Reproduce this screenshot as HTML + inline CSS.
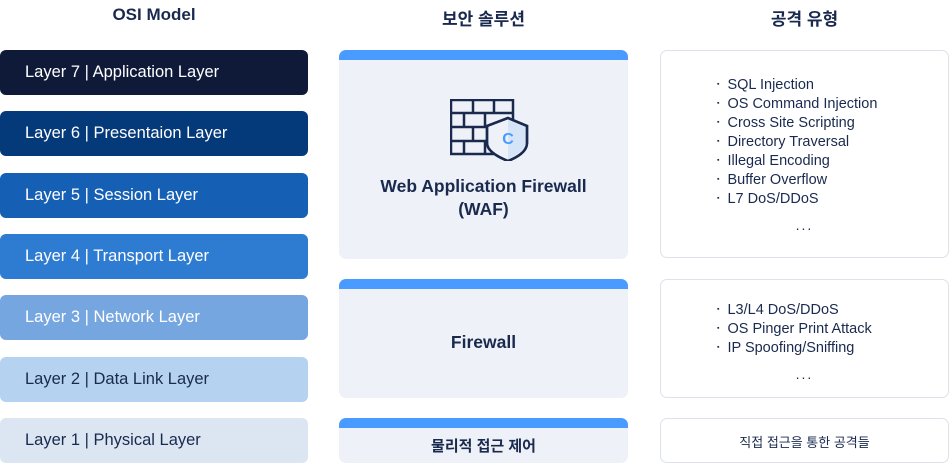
<!DOCTYPE html>
<html><head><meta charset="utf-8"><style>
*{margin:0;padding:0;box-sizing:border-box}
body{width:950px;height:463px;background:#fff;position:relative;font-family:"Liberation Sans","Noto Sans CJK KR",sans-serif;overflow:hidden;color:#1a2a4f}
.h{position:absolute;top:5px;font-size:17px;font-weight:bold;text-align:center;color:#1a2a4f}
.l{position:absolute;left:0;width:308px;height:45px;border-radius:6px;font-size:16.5px;line-height:45px;padding-left:25px;color:#fff}
.m{position:absolute;left:339px;width:289px;background:#eef1f7;border-radius:7px;overflow:hidden;text-align:center;font-weight:bold;font-size:17.5px;color:#1a2a4f}
.m:before{content:"";position:absolute;left:0;top:0;right:0;height:10px;background:#4a9bff}
.r{position:absolute;left:660px;width:289px;border:1px solid #dde2ea;border-radius:7px;background:#fff}
ul{list-style:none;position:absolute;left:56px;font-size:14.5px;line-height:19px}
ul li{height:19px}
ul li:before{content:"▪";font-size:7px;margin-right:8px;vertical-align:3px}
.d{position:absolute;left:0;right:0;text-align:center;font-size:14px;letter-spacing:2px}
</style></head><body>
<div class="h" style="left:0;width:308px">OSI Model</div>
<div class="h" style="left:339px;width:289px">보안 솔루션</div>
<div class="h" style="left:660px;width:289px">공격 유형</div>

<div class="l" style="top:50px;background:#0e1a38">Layer 7 | Application Layer</div>
<div class="l" style="top:111px;background:#053a7a">Layer 6 | Presentaion Layer</div>
<div class="l" style="top:173px;background:#1560b5">Layer 5 | Session Layer</div>
<div class="l" style="top:234px;background:#2e7bd2">Layer 4 | Transport Layer</div>
<div class="l" style="top:295px;background:#76a6e0">Layer 3 | Network Layer</div>
<div class="l" style="top:357px;background:#b5d3f0;color:#1a2a4f">Layer 2 | Data Link Layer</div>
<div class="l" style="top:418px;background:#dce6f2;color:#1a2a4f">Layer 1 | Physical Layer</div>

<div class="m" style="top:50px;height:209px">
<svg style="position:absolute;left:111px;top:49px" width="80" height="62" viewBox="0 0 80 62" fill="none" stroke="#1a2a4f" stroke-width="2.5">
<rect x="1" y="1" width="62" height="54"/>
<path d="M1 14H63M1 28H63M1 42H63M23 1V14M44 1V14M14 14V28M35 14V28M23 28V42M44 28V42M14 42V55M35 42V55"/>
<path d="M58 19L77 27V44C77 52 68 58 58 62C48 58 37 52 37 44V27Z" fill="#eef1f7"/>
<path d="M58 21L75 28V44C75 51 67 56 58 60Z" fill="#d6e4f7" stroke="none"/>
<path d="M58 19L77 27V44C77 52 68 58 58 62C48 58 37 52 37 44V27Z"/>
<text x="58" y="45" font-size="16" font-weight="bold" fill="#4a9bff" stroke="none" text-anchor="middle" font-family="Liberation Sans">C</text>
</svg>
<div style="position:absolute;top:125px;left:0;right:0;line-height:23px">Web Application Firewall<br>(WAF)</div>
</div>
<div class="m" style="top:279px;height:119px"><div style="position:absolute;top:53px;left:0;right:0">Firewall</div></div>
<div class="m" style="top:418px;height:45px;font-size:15px"><div style="position:absolute;top:17px;left:0;right:0">물리적 접근 제어</div></div>

<div class="r" style="top:50px;height:208px">
<ul style="top:24px"><li>SQL Injection</li><li>OS Command Injection</li><li>Cross Site Scripting</li><li>Directory Traversal</li><li>Illegal Encoding</li><li>Buffer Overflow</li><li>L7 DoS/DDoS</li></ul>
<div class="d" style="top:166px">...</div>
</div>
<div class="r" style="top:279px;height:119px">
<ul style="top:20px"><li>L3/L4 DoS/DDoS</li><li>OS Pinger Print Attack</li><li>IP Spoofing/Sniffing</li></ul>
<div class="d" style="top:86px">...</div>
</div>
<div class="r" style="top:418px;height:45px"><div class="d" style="top:13px;letter-spacing:0;font-size:13px">직접 접근을 통한 공격들</div></div>
</body></html>
